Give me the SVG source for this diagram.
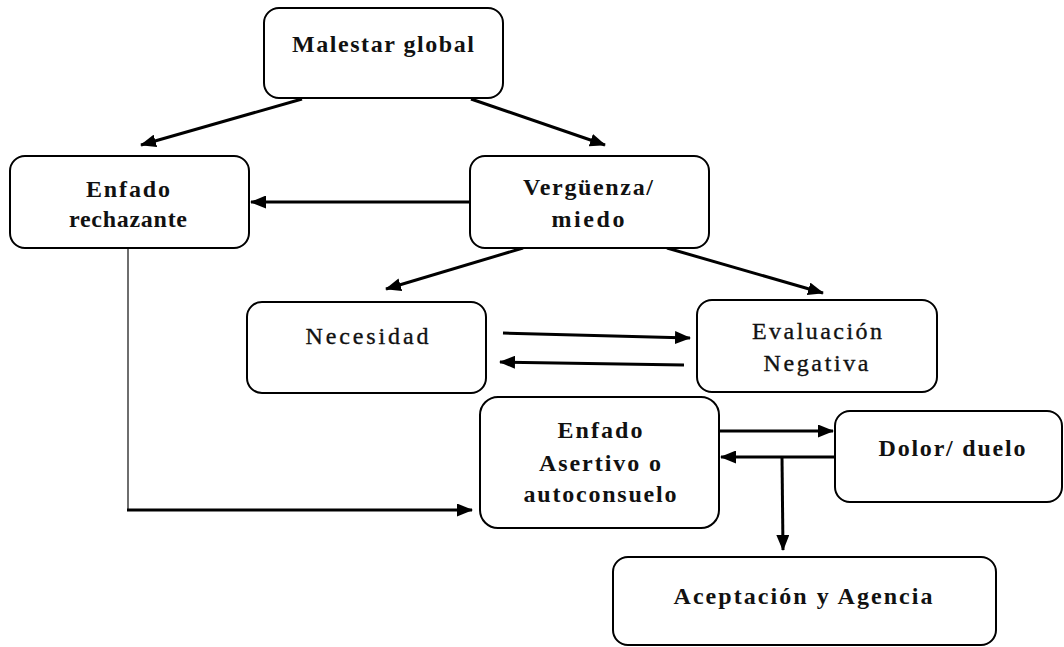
<svg xmlns="http://www.w3.org/2000/svg" width="1064" height="647" viewBox="0 0 1064 647">
  <style>
    .box { fill: #ffffff; stroke: #000000; stroke-width: 2; }
    .lbl { font-family: "Liberation Serif", "Times New Roman", serif; font-size: 24px; fill: #111111; text-anchor: middle; }
    .b { font-weight: bold; }
    .r { stroke: #111111; stroke-width: 0.35; }
    .arrow { fill: none; stroke: #000000; stroke-width: 3; marker-end: url(#head); }
    .thin { fill: none; stroke: #4a4a4a; stroke-width: 1.6; }
  </style>
  <defs>
    <marker id="head" viewBox="0 0 16 13" refX="15" refY="6.5" markerWidth="16" markerHeight="13" markerUnits="userSpaceOnUse" orient="auto">
      <path d="M0,0 L16,6.5 L0,13 z" fill="#000000"/>
    </marker>
  </defs>
  <rect width="1064" height="647" fill="#ffffff"/>

  <g id="connectors">
    <path class="arrow" d="M302,99 L141,145"/>
    <path class="arrow" d="M471,99 L605,145"/>
    <path class="arrow" d="M470,202 L251,202"/>
    <path class="arrow" d="M523,248 L386,289"/>
    <path class="arrow" d="M667,248 L823,293"/>
    <path class="arrow" d="M503,333 L690,338"/>
    <path class="arrow" d="M684,365 L500,362"/>
    <path class="thin" d="M128,249 L128,510"/>
    <path class="arrow" d="M127,510 L472,510"/>
    <path class="arrow" d="M720,431 L833,431"/>
    <path class="arrow" d="M835,457 L721,457"/>
    <path class="arrow" d="M782,457 L783,550"/>
  </g>

  <g id="malestar">
    <rect class="box" x="264" y="8" width="239" height="90" rx="15"/>
    <text class="lbl b" x="383" y="52" textLength="182" lengthAdjust="spacing">Malestar global</text>
  </g>

  <g id="enfado-rechazante">
    <rect class="box" x="10" y="156" width="239" height="92" rx="15"/>
    <text class="lbl b" x="128" y="197" textLength="84" lengthAdjust="spacing">Enfado</text>
    <text class="lbl b" x="128" y="227" textLength="118" lengthAdjust="spacing">rechazante</text>
  </g>

  <g id="verguenza">
    <rect class="box" x="470" y="156" width="239" height="92" rx="15"/>
    <text class="lbl b" x="588" y="195" textLength="130" lengthAdjust="spacing">Vergüenza/</text>
    <text class="lbl b" x="588" y="227" textLength="73" lengthAdjust="spacing">miedo</text>
  </g>

  <g id="necesidad">
    <rect class="box" x="247" y="302" width="239" height="91" rx="15"/>
    <text class="lbl r" x="367" y="344" textLength="123" lengthAdjust="spacing">Necesidad</text>
  </g>

  <g id="evaluacion">
    <rect class="box" x="697" y="300" width="240" height="92" rx="15"/>
    <text class="lbl r" x="817" y="339" textLength="130" lengthAdjust="spacing">Evaluación</text>
    <text class="lbl r" x="816" y="371" textLength="105" lengthAdjust="spacing">Negativa</text>
  </g>

  <g id="enfado-asertivo">
    <rect class="box" x="480" y="397" width="239" height="131" rx="18"/>
    <text class="lbl b" x="600" y="438" textLength="85" lengthAdjust="spacing">Enfado</text>
    <text class="lbl b" x="600" y="471" textLength="122" lengthAdjust="spacing">Asertivo o</text>
    <text class="lbl b" x="600" y="502" textLength="153" lengthAdjust="spacing">autoconsuelo</text>
  </g>

  <g id="dolor">
    <rect class="box" x="835" y="411" width="227" height="91" rx="15"/>
    <text class="lbl b" x="952" y="456" textLength="147" lengthAdjust="spacing">Dolor/ duelo</text>
  </g>

  <g id="aceptacion">
    <rect class="box" x="613" y="557" width="383" height="88" rx="15"/>
    <text class="lbl b" x="803" y="604" textLength="259" lengthAdjust="spacing">Aceptación y Agencia</text>
  </g>
</svg>
